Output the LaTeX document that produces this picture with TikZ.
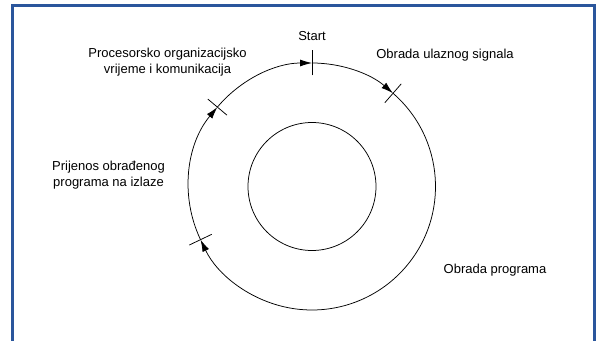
\documentclass[tikz,border=0pt]{standalone}
\usepackage{fontspec}
\setmainfont{Liberation Sans}
\usetikzlibrary{arrows.meta,calc}
\definecolor{framblue}{RGB}{42,86,156}
\begin{document}
\begin{tikzpicture}[x=1pt,y=1pt,
  lbl/.style={font=\fontsize{13}{16}\selectfont, align=center, inner sep=0pt},
  ring/.style={line width=0.75pt},
  ticker/.style={line width=0.75pt},
  flow/.style={ring, -{Latex[length=12pt,width=7pt]}},
  frm/.style={draw=framblue, line width=2.5pt}]
\useasboundingbox (0,0) rectangle (596,340);
\draw[frm] (12.5,-10) rectangle (594.5,334.5);
\coordinate (C) at (312,153.5);
\draw[ring] (C) circle[radius=64pt];
\foreach \a/\n in {90/s,49/u,140/p,205.5/i}{
  \coordinate (\n) at ($(C)+(\a:123.5pt)$);
  \coordinate (\n1) at ($(C)+(\a:111pt)$);
  \coordinate (\n2) at ($(C)+(\a:136pt)$);
  \draw[ticker] (\n1) -- (\n2);
}
\draw[flow] (p) arc[start angle=140,end angle=90,radius=123.5pt];
\draw[flow] (s) arc[start angle=90,end angle=49,radius=123.5pt];
\draw[flow] (u) arc[start angle=49,end angle=-154.5,radius=123.5pt];
\draw[flow] (i) arc[start angle=205.5,end angle=140,radius=123.5pt];
\node[lbl] (tstart) at (312,304) {Start};
\node[lbl] (tul) at (445,284.5) {Obrada ulaznog signala};
\node[lbl] (tproc) at (167.5,278) {Procesorsko organizacijsko\\vrijeme i komunikacija};
\node[lbl] (tprij) at (108.5,165) {Prijenos obrađenog\\programa na izlaze};
\node[lbl] (tobr) at (495,69.5) {Obrada programa};
\end{tikzpicture}
\end{document}
